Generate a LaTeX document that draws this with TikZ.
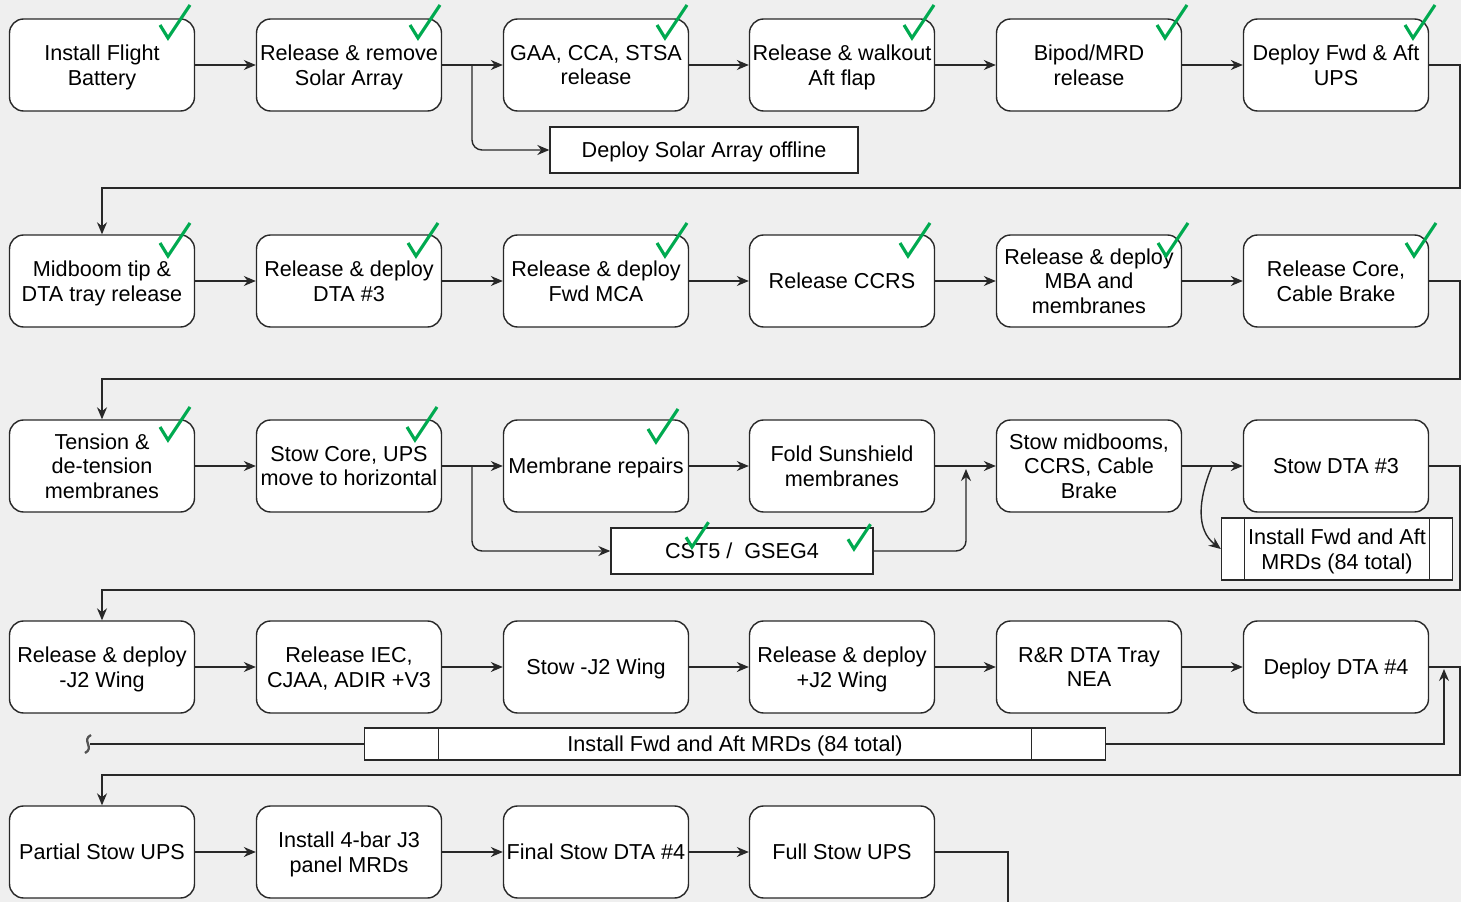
\documentclass[tikz,border=0pt]{standalone}
\usepackage{fontspec}
\setmainfont{Liberation Sans}
\usetikzlibrary{arrows.meta,calc}
\definecolor{bgcol}{RGB}{239,239,239}
\definecolor{linecol}{RGB}{40,40,40}
\definecolor{tickgreen}{RGB}{0,170,80}

\begin{document}
\begin{tikzpicture}[x=0.02cm,y=-0.02cm,
    font=\fontsize{12.3}{14}\selectfont,
    task/.style={draw=linecol,line width=0.8pt,fill=white,rounded corners=0.28cm,
        minimum width=3.7cm,minimum height=1.84cm,inner sep=0pt,align=center,text depth=-1.9pt},
    side/.style={draw=linecol,line width=0.8pt,fill=white,inner sep=0pt,align=center,text depth=-1.9pt},
    proc/.style={side,path picture={
        \draw[linecol,line width=0.8pt]
            ($(path picture bounding box.north west)!0.1!(path picture bounding box.north east)$) --
            ($(path picture bounding box.south west)!0.1!(path picture bounding box.south east)$)
            ($(path picture bounding box.north west)!0.9!(path picture bounding box.north east)$) --
            ($(path picture bounding box.south west)!0.9!(path picture bounding box.south east)$);}},
    arr/.style={draw=linecol,line width=0.8pt,-{Stealth[length=0.24cm,width=0.2cm]}},
    ln/.style={draw=linecol,line width=0.8pt},
    tick/.pic={\draw[tickgreen,line width=1.8pt] (-8,-13) -- (0,0) -- (22,-33);}]
    \fill[bgcol] (0,0) rectangle (1461,902);
    \useasboundingbox (0,0) rectangle (1461,902);

    % row 1
    \node[task] (bat) at (102,65) {Install Flight\\Battery};
    \node[task] (solar) at (349,65) {Release \& remove\\Solar Array};
    \node[task] (gaa) at (596,65) {GAA, CCA, STSA\\release};
    \node[task] (aftflap) at (842,65) {Release \& walkout\\Aft flap};
    \node[task] (bipod) at (1089,65) {Bipod/MRD\\release};
    \node[task] (upsdep) at (1336,65) {Deploy Fwd \& Aft\\UPS};
    \node[side,minimum width=6.16cm,minimum height=0.92cm] (solaroff) at (704,150) {Deploy Solar Array offline};

    % row 2
    \node[task] (midboom) at (102,281) {Midboom tip \&\\DTA tray release};
    \node[task] (dta3rel) at (349,281) {Release \& deploy\\DTA \#3};
    \node[task] (fwdmca) at (596,281) {Release \& deploy\\Fwd MCA};
    \node[task] (ccrs) at (842,281) {Release CCRS};
    \node[task] (mba) at (1089,281) {Release \& deploy\\MBA and\\membranes};
    \node[task] (core) at (1336,281) {Release Core,\\Cable Brake};

    % row 3
    \node[task] (tension) at (102,466) {Tension \&\\de-tension\\membranes};
    \node[task] (stowcore) at (349,466) {Stow Core, UPS\\move to horizontal};
    \node[task] (repairs) at (596,466) {Membrane repairs};
    \node[task] (fold) at (842,466) {Fold Sunshield\\membranes};
    \node[task] (midbooms) at (1089,466) {Stow midbooms,\\CCRS, Cable\\Brake};
    \node[task] (stowdta3) at (1336,466) {Stow DTA \#3};
    \node[side,minimum width=5.24cm,minimum height=0.92cm] (cst) at (742,551) {CST5 /\ \ GSEG4};
    \node[proc,minimum width=4.62cm,minimum height=1.24cm] (mrdA) at (1337,549) {Install Fwd and Aft\\MRDs (84 total)};

    % row 4
    \node[task] (j2rel) at (102,667) {Release \& deploy\\-J2 Wing};
    \node[task] (iec) at (349,667) {Release IEC,\\CJAA, ADIR +V3};
    \node[task] (stowj2) at (596,667) {Stow -J2 Wing};
    \node[task] (j2dep) at (842,667) {Release \& deploy\\+J2 Wing};
    \node[task] (rrdta) at (1089,667) {R\&R DTA Tray\\NEA};
    \node[task] (dta4) at (1336,667) {Deploy DTA \#4};
    \node[proc,minimum width=14.82cm,minimum height=0.64cm] (mrdB) at (735,744) {Install Fwd and Aft MRDs (84 total)};

    % row 5
    \node[task] (partial) at (102,852) {Partial Stow UPS};
    \node[task] (fourbar) at (349,852) {Install 4-bar J3\\panel MRDs};
    \node[task] (final) at (596,852) {Final Stow DTA \#4};
    \node[task] (fullstow) at (842,852) {Full Stow UPS};

    \foreach \a/\b in {bat/solar,solar/gaa,gaa/aftflap,aftflap/bipod,bipod/upsdep,
        midboom/dta3rel,dta3rel/fwdmca,fwdmca/ccrs,ccrs/mba,mba/core,
        tension/stowcore,stowcore/repairs,repairs/fold,fold/midbooms,midbooms/stowdta3,
        j2rel/iec,iec/stowj2,stowj2/j2dep,j2dep/rrdta,rrdta/dta4,
        partial/fourbar,fourbar/final,final/fullstow}
        \draw[arr] (\a) -- (\b);

    % wrap to next row
    \coordinate (r1) at (1460,188);
    \coordinate (r2) at (1460,379);
    \coordinate (r3) at (1460,590);
    \coordinate (r4) at (1460,775);
    \coordinate (out) at (1008,905);
    \draw[arr] (upsdep) -| (r1) -| (midboom);
    \draw[arr] (core) -| (r2) -| (tension);
    \draw[arr] (stowdta3) -| (r3) -| (j2rel);
    \draw[arr] (dta4) -| (r4) -| (partial);
    \draw[ln] (fullstow) -| (out);

    % side branches
    \coordinate (j1) at (472,65);
    \coordinate (j3) at (472,466);
    \coordinate (j4) at (966,469);
    \coordinate (j6) at (1212,466);
    \coordinate (j5) at (1444,669);
    \coordinate (tl) at (90,744);
    \draw[arr,rounded corners=0.2cm] (j1) |- (solaroff);
    \draw[arr,rounded corners=0.2cm] (j3) |- (cst);
    \draw[arr,rounded corners=0.2cm] (cst) -| (j4);
    \draw[arr] (j6) .. controls (1198,500) and (1196,530) .. (mrdA.west);
    \draw[arr] (mrdB) -| (j5);
    \draw[ln] (mrdB) -- (tl);
    \draw[linecol!80,line width=1.3pt] (91,735) .. controls (81,740) and (95,748) .. (85,753);

    % done marks
    \foreach \p in {(168,38),(418,38),(665,38),(912,38),(1165,38),(1413,38),
        (168,256),(416,256),(665,256),(908,256),(1166,256),(1414,256),
        (168,440),(415,440),(656,442)}
        \pic at \p {tick};
    \pic[scale=0.75] at (692,547) {tick};
    \pic[scale=0.75] at (854,549) {tick};
\end{tikzpicture}
\end{document}
